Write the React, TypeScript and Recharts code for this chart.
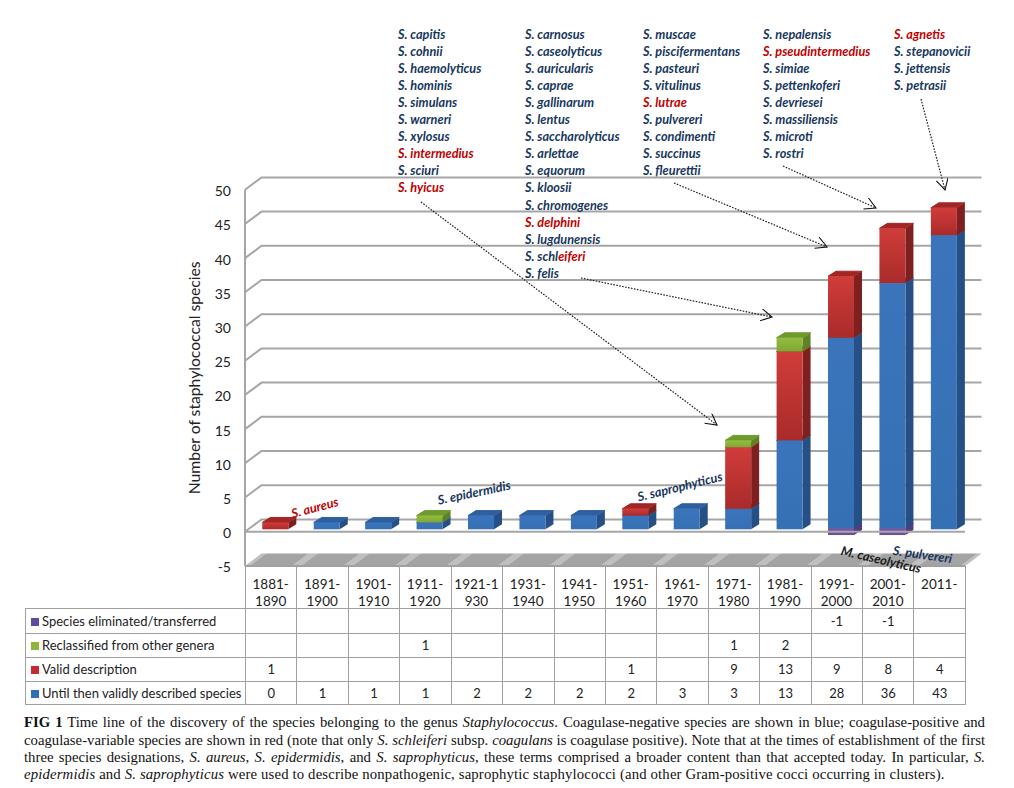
import React from 'react';
import { BarChart, Bar, XAxis, YAxis, CartesianGrid, ReferenceLine } from 'recharts';

const decades = [
  '1881-\n1890', '1891-\n1900', '1901-\n1910', '1911-\n1920', '1921-1\n930', '1931-\n1940', '1941-\n1950',
  '1951-\n1960', '1961-\n1970', '1971-\n1980', '1981-\n1990', '1991-\n2000', '2001-\n2010', '2011-',
];
const untilThen = [0, 1, 1, 1, 2, 2, 2, 2, 3, 3, 13, 28, 36, 43];
const validDescription = [1, null, null, null, null, null, null, 1, null, 9, 13, 9, 8, 4];
const reclassified = [null, null, null, 1, null, null, null, null, null, 1, 2, null, null, null];
const eliminated = [null, null, null, null, null, null, null, null, null, null, null, -1, -1, null];
const yTicks = [-5, 0, 5, 10, 15, 20, 25, 30, 35, 40, 45, 50];

const chartData = decades.map((decade, i) => ({
  decade,
  untilThen: untilThen[i],
  validDescription: validDescription[i],
  reclassified: reclassified[i],
  eliminated: eliminated[i],
}));

const tableRows = [
  { label: 'Species eliminated/transferred', values: eliminated, swatch: '#5f4a9c' },
  { label: 'Reclassified from other genera', values: reclassified, swatch: '#8fb53a' },
  { label: 'Valid description', values: validDescription, swatch: '#c22c30' },
  { label: 'Until then validly described species', values: untilThen, swatch: '#2f6fb5' },
];

const speciesCol1 = ['S. capitis', 'S. cohnii', 'S. haemolyticus', 'S. hominis', 'S. simulans', 'S. warneri', 'S. xylosus', 'S. intermedius', 'S. sciuri', 'S. hyicus'];
const speciesCol2 = ['S. carnosus', 'S. caseolyticus', 'S. auricularis', 'S. caprae', 'S. gallinarum', 'S. lentus', 'S. saccharolyticus', 'S. arlettae', 'S. equorum', 'S. kloosii', 'S. chromogenes', 'S. delphini', 'S. lugdunensis', 'S. schleiferi', 'S. felis'];
const speciesCol3 = ['S. muscae', 'S. piscifermentans', 'S. pasteuri', 'S. vitulinus', 'S. lutrae', 'S. pulvereri', 'S. condimenti', 'S. succinus', 'S. fleurettii'];
const speciesCol4 = ['S. nepalensis', 'S. pseudintermedius', 'S. simiae', 'S. pettenkoferi', 'S. devriesei', 'S. massiliensis', 'S. microti', 'S. rostri'];
const speciesCol5 = ['S. agnetis', 'S. stepanovicii', 'S. jettensis', 'S. petrasii'];
const redSpecies = ['S. intermedius', 'S. hyicus', 'S. delphini', 'S. lutrae', 'S. pseudintermedius', 'S. agnetis'];

const speciesColumns = [
  { x: 398, names: speciesCol1 },
  { x: 525, names: speciesCol2 },
  { x: 643, names: speciesCol3 },
  { x: 763, names: speciesCol4 },
  { x: 894, names: speciesCol5 },
];

const arrows = [
  [421, 202, 717, 425],
  [581, 278, 772, 317],
  [674, 183, 827, 247],
  [783, 166, 876, 208],
  [921, 99, 945, 190],
];

const slantedLabels = [
  { text: 'S. aureus', x: 316, y: 512, angle: -15, color: '#c00000' },
  { text: 'S. epidermidis', x: 475, y: 497, angle: -12, color: '#17375e' },
  { text: 'S. saprophyticus', x: 681, y: 491, angle: -14, color: '#17375e' },
  { text: 'M. caseolyticus', x: 880, y: 564, angle: 13, color: '#1a1a1a' },
  { text: 'S. pulvereri', x: 922, y: 559, angle: 8, color: '#17375e' },
];

const blue = { front: ['#3b74bb', '#3570b4'], side: '#264f85', top: '#2e5f9f' };
const red = { front: ['#d03c3a', '#a92b2a'], side: '#7f2020', top: '#a32624' };
const green = { front: ['#93bd3e', '#7fa834'], side: '#5f8128', top: '#6f9a2d' };
const purple = { front: ['#7a5aa8', '#6a4c98'], side: '#553b7e', top: '#553b7e' };

const DEPTH_X = 8;
const DEPTH_Y = 5;

const Bar3D = ({ x, y, width, height, colors, id, shiftY = -2.4, showTop = true }: any) => {
  if (!height) return null;
  const left = x + 4.3;
  const top = Math.min(y, y + height) + shiftY;
  const h = Math.abs(height);
  const right = left + width;
  const bottom = top + h;
  return (
    <g>
      <polygon
        points={`${right},${top} ${right + DEPTH_X},${top - DEPTH_Y} ${right + DEPTH_X},${bottom - DEPTH_Y} ${right},${bottom}`}
        fill={colors.side}
      />
      {showTop && (
        <polygon
          points={`${left},${top} ${left + DEPTH_X},${top - DEPTH_Y} ${right + DEPTH_X},${top - DEPTH_Y} ${right},${top}`}
          fill={colors.top}
          stroke={colors.top}
          strokeWidth={1}
          strokeLinejoin="round"
        />
      )}
      <rect x={left} y={top} width={width} height={h} fill={`url(#${id})`} />
    </g>
  );
};

const GridLine3D = ({ x1, y1, x2, index }: any) => {
  const backY = y1 - 12.3;
  const line = (
    <path d={`M${x1},${y1} L${x1 + 16.5},${backY} L${x2 + 16.5},${backY}`} fill="none" stroke="#a6a6a6" strokeWidth={2} />
  );
  if (yTicks[index] !== -5) return <g key={index}>{line}</g>;
  return (
    <g key={index}>
      <polygon points={`${x1},${y1} ${x1 + 16.5},${backY} ${x2 + 16.5},${backY} ${x2},${y1}`} fill="#a4a4a4" />
      <polygon points={`${x1},${y1} ${x1 + 16.5},${backY} ${x2 + 16.5},${backY} ${x2},${y1}`} fill="url(#floorStreaks)" />
      <line x1={x1} y1={y1} x2={x2} y2={y1} stroke="#a0a0a0" strokeWidth={2} />
    </g>
  );
};

const DecadeTick = ({ x, y, payload }: any) => {
  const lines = String(payload.value).split('\n');
  return (
    <text x={x} y={y} textAnchor="middle" fontSize={13.5} fill="#222">
      {lines.map((line, i) => (
        <tspan key={i} x={x} y={y + 15 + i * 17}>{line}</tspan>
      ))}
    </text>
  );
};

const rowHeights = [42, 24.5, 24, 24, 23.5];

const SpeciesTable = () => (
  <table
    style={{
      position: 'absolute', left: 25, top: 566, width: 940, tableLayout: 'fixed', borderCollapse: 'collapse',
      fontFamily: 'Lato', fontSize: 13, color: '#222',
    }}
  >
    <colgroup>
      <col style={{ width: 220 }} />
      {decades.map(d => <col key={d} style={{ width: 51.43 }} />)}
    </colgroup>
    <tbody>
      <tr style={{ height: rowHeights[0] }}>
        <td />
        {decades.map(d => <td key={d} style={{ border: '1.5px solid #a0a0a0', padding: 0 }} />)}
      </tr>
      {tableRows.map((row, r) => (
        <tr key={row.label} style={{ height: rowHeights[r + 1] }}>
          <td style={{ border: '1.5px solid #a0a0a0', padding: '0 0 0 5px', whiteSpace: 'nowrap' }}>
            <span style={{ display: 'inline-block', width: 8, height: 8, background: row.swatch, marginRight: 3 }} />
            {row.label}
          </td>
          {row.values.map((v, i) => (
            <td key={i} style={{ border: '1.5px solid #a0a0a0', padding: 0, textAlign: 'center' }}>{v}</td>
          ))}
        </tr>
      ))}
    </tbody>
  </table>
);

const Annotations = () => (
  <svg width={1014} height={788} style={{ position: 'absolute', left: 0, top: 0, pointerEvents: 'none' }}>
    <defs>
      <marker id="openArrow" markerWidth="14" markerHeight="14" refX="12" refY="6" orient="auto" markerUnits="userSpaceOnUse">
        <path d="M1,0 L12,6 L1,12" fill="none" stroke="#111" strokeWidth={1.1} />
      </marker>
    </defs>
    {arrows.map(([x1, y1, x2, y2], i) => (
      <line key={i} x1={x1} y1={y1} x2={x2} y2={y2} stroke="#222" strokeWidth={1.2} strokeDasharray="1.6 1.4" markerEnd="url(#openArrow)" />
    ))}
    <g fontFamily="Lato" fontStyle="italic" fontWeight={700} fontSize={12.7}>
      {speciesColumns.map(col =>
        col.names.map((name, i) => (
          <text key={name} x={col.x} y={38.5 + i * 17.1} fill={redSpecies.includes(name) ? '#c00000' : '#17375e'}>
            {name === 'S. schleiferi' ? (
              <>
                S. schl<tspan fill="#c00000">eiferi</tspan>
              </>
            ) : name}
          </text>
        )),
      )}
      {slantedLabels.map(l => (
        <text key={l.text} x={l.x} y={l.y} fill={l.color} textAnchor="middle" transform={`rotate(${l.angle} ${l.x} ${l.y})`}>
          {l.text}
        </text>
      ))}
    </g>
  </svg>
);

const captionStyle: React.CSSProperties = {
  position: 'absolute', left: 24, width: 961, fontFamily: '"Liberation Serif"', fontSize: 14.75, lineHeight: '17px',
  textAlign: 'justify', textAlignLast: 'justify', color: '#111', whiteSpace: 'nowrap',
};

const Caption = () => (
  <>
    <div style={{ ...captionStyle, top: 714 }}>
      <b>FIG 1</b> Time line of the discovery of the species belonging to the genus <i>Staphylococcus</i>. Coagulase-negative species are shown in blue; coagulase-positive and
    </div>
    <div style={{ ...captionStyle, top: 731.5 }}>
      coagulase-variable species are shown in red (note that only <i>S. schleiferi</i> subsp. <i>coagulans</i> is coagulase positive). Note that at the times of establishment of the first
    </div>
    <div style={{ ...captionStyle, top: 749 }}>
      three species designations, <i>S. aureus</i>, <i>S. epidermidis</i>, and <i>S. saprophyticus</i>, these terms comprised a broader content than that accepted today. In particular, <i>S.</i>
    </div>
    <div style={{ ...captionStyle, top: 766, textAlign: 'left', textAlignLast: 'left', letterSpacing: 0.15 }}>
      <i>epidermidis</i> and <i>S. saprophyticus</i> were used to describe nonpathogenic, saprophytic staphylococci (and other Gram-positive cocci occurring in clusters).
    </div>
  </>
);

const gradients = [
  { id: 'blueFront', stops: blue.front },
  { id: 'redFront', stops: red.front },
  { id: 'greenFront', stops: green.front },
  { id: 'purpleFront', stops: purple.front },
];

const ValueTick = ({ x, y, payload }: any) => (
  <text x={x} y={y + 6.5} textAnchor="end" fontSize={14} fill="#222">{payload.value}</text>
);

export default function App() {
  return (
    <div style={{ position: 'absolute', left: 0, top: 0, width: 1014, height: 788, background: '#fff', overflow: 'hidden' }}>
      <SpeciesTable />
      <div style={{ position: 'absolute', left: 0, top: 0 }}>
        <BarChart
          width={1014}
          height={788}
          data={chartData}
          stackOffset="sign"
          barSize={26}
          margin={{ top: 189.7, right: 49, bottom: 177.1, left: 180 }}
          style={{ fontFamily: 'Lato' }}
        >
          <defs>
            {gradients.map(g => (
              <linearGradient key={g.id} id={g.id} x1="0" y1="0" x2="0" y2="1">
                <stop offset="0%" stopColor={g.stops[0]} />
                <stop offset="100%" stopColor={g.stops[1]} />
              </linearGradient>
            ))}
            <pattern id="floorStreaks" patternUnits="userSpaceOnUse" width={51.43} height={20} patternTransform="translate(245,566) skewX(-53.3)">
              <rect x={0} y={0} width={5} height={20} fill="#fff" opacity={0.3} />
              <rect x={46.43} y={0} width={5} height={20} fill="#fff" opacity={0.3} />
            </pattern>
          </defs>
          <CartesianGrid horizontal={GridLine3D} vertical={false} />
          <XAxis dataKey="decade" height={45} interval={0} tick={DecadeTick} tickLine={false} axisLine={false} />
          <YAxis
            width={65}
            domain={[-5, 50]}
            ticks={yTicks}
            interval={0}
            tickLine={false}
            axisLine={{ stroke: '#a6a6a6', strokeWidth: 2 }}
            tickMargin={8}
            tick={ValueTick}
            label={{ value: 'Number of staphylococcal species', angle: -90, position: 'insideLeft', offset: 14, fontSize: 15.7, fill: '#222', style: { textAnchor: 'middle' } }}
          />
          <ReferenceLine y={0} stroke="#a6a6a6" strokeWidth={2} />
          <Bar dataKey="untilThen" stackId="a" isAnimationActive={false} shape={(p: any) => <Bar3D {...p} colors={blue} id="blueFront" />} />
          <Bar dataKey="validDescription" stackId="a" isAnimationActive={false} shape={(p: any) => <Bar3D {...p} colors={red} id="redFront" />} />
          <Bar dataKey="reclassified" stackId="a" isAnimationActive={false} shape={(p: any) => <Bar3D {...p} colors={green} id="greenFront" />} />
          <Bar dataKey="eliminated" stackId="a" isAnimationActive={false} shape={(p: any) => <Bar3D {...p} colors={purple} id="purpleFront" shiftY={-3.5} showTop={false} />} />
        </BarChart>
      </div>
      <Annotations />
      <Caption />
    </div>
  );
}
